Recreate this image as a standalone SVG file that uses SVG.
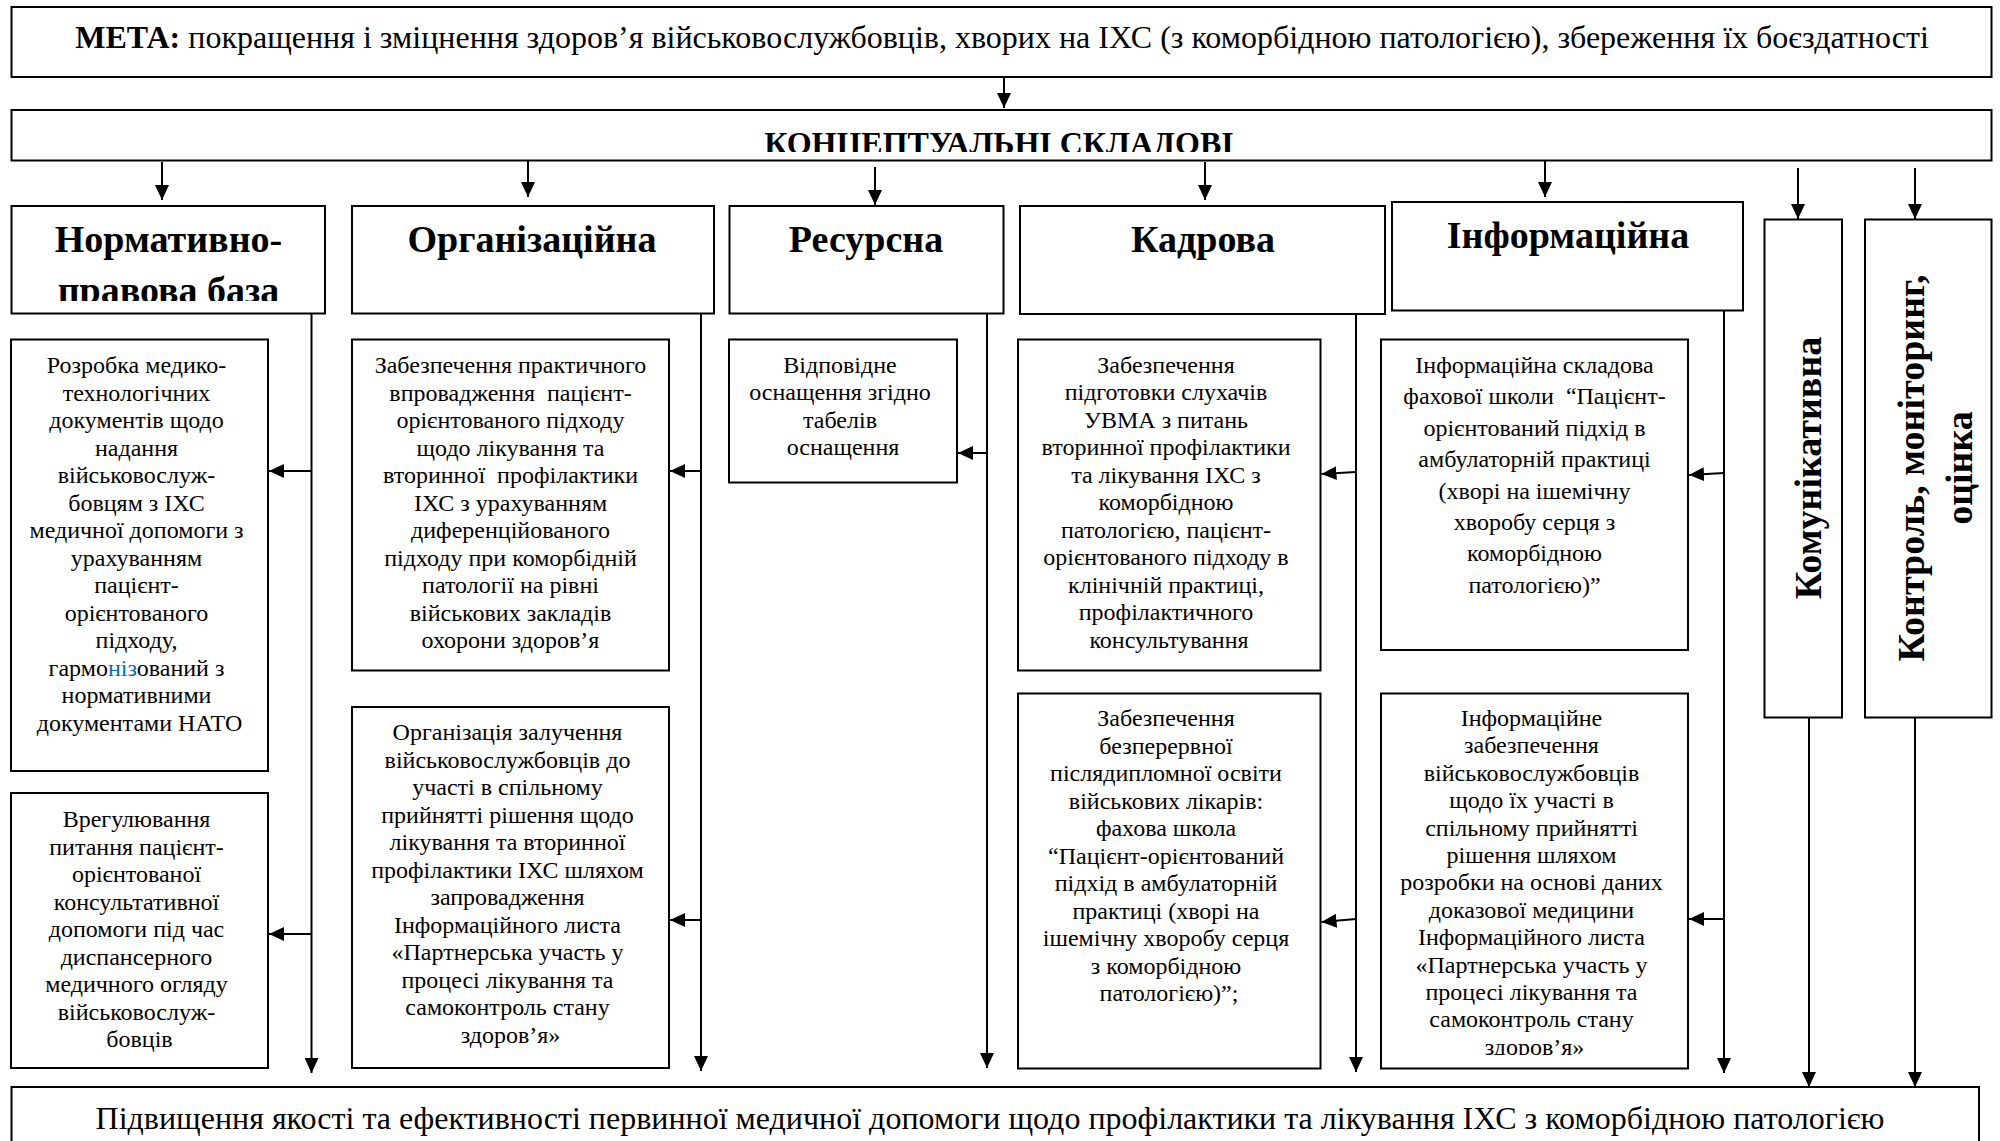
<svg xmlns="http://www.w3.org/2000/svg" width="2000" height="1141" viewBox="0 0 2000 1141">
<style>
  .box { fill: #fff; stroke: #000; stroke-width: 2; }
  .t { font-family: "Liberation Serif", "Times New Roman", serif; fill: #000; }
  .body { font-size: 24px; text-anchor: middle; }
  .head { font-size: 38px; font-weight: bold; text-anchor: middle; }
  .big { font-size: 32px; }
  .conn { stroke: #000; stroke-width: 2; fill: none; marker-end: url(#ah); }
  .blue { fill: #0070c0; }
</style>
<defs>
  <marker id="ah" markerUnits="userSpaceOnUse" markerWidth="16" markerHeight="14" refX="15" refY="7" orient="auto">
    <path d="M0,0 L15,7 L0,14 Z" fill="#000"/>
  </marker>
  <clipPath id="clipConcept"><rect x="0" y="100" width="2000" height="52"/></clipPath>
  <clipPath id="clipNorm"><rect x="0" y="200" width="400" height="101"/></clipPath>
  <clipPath id="clipI2"><rect x="1370" y="690" width="330" height="365"/></clipPath>
</defs>
<rect width="2000" height="1141" fill="#fff"/>

<g id="meta">
  <rect class="box" x="11.5" y="7" width="1980" height="70"/>
  <text class="t big" x="1002" y="47.5" text-anchor="middle"><tspan font-weight="bold">МЕТА:</tspan> покращення і зміцнення здоров’я військовослужбовців, хворих на ІХС (з коморбідною патологією), збереження їх боєздатності</text>
</g>

<g id="concept">
  <rect class="box" x="11.5" y="110" width="1980" height="50.5"/>
  <text class="t big" x="999" y="154" text-anchor="middle" font-weight="bold" clip-path="url(#clipConcept)">КОНЦЕПТУАЛЬНІ СКЛАДОВІ</text>
</g>

<g id="h-norm">
  <rect class="box" x="11.5" y="206" width="313.5" height="107.5"/>
  <text class="t head" x="168.5" y="252">Нормативно-</text>
  <text class="t head" x="168.5" y="303" clip-path="url(#clipNorm)">правова база</text>
</g>
<g id="h-org">
  <rect class="box" x="352" y="206" width="362" height="107.5"/>
  <text class="t head" x="532" y="252">Організаційна</text>
</g>
<g id="h-res">
  <rect class="box" x="729.5" y="206" width="274" height="107.5"/>
  <text class="t head" x="866" y="252">Ресурсна</text>
</g>
<g id="h-kadr">
  <rect class="box" x="1020" y="206" width="365" height="108"/>
  <text class="t head" x="1203" y="252">Кадрова</text>
</g>
<g id="h-info">
  <rect class="box" x="1392" y="202" width="351" height="108.5"/>
  <text class="t head" x="1568" y="248">Інформаційна</text>
</g>
<g id="h-comm">
  <rect class="box" x="1764.5" y="219.5" width="77.5" height="498"/>
  <text class="t head" transform="translate(1821,468) rotate(-90)" x="0" y="0">Комунікативна</text>
</g>
<g id="h-ctrl">
  <rect class="box" x="1865" y="219.5" width="126.5" height="498"/>
  <text class="t head" transform="translate(1924,468) rotate(-90)" x="0" y="0">Контроль, моніторинг,</text>
  <text class="t head" transform="translate(1972,468) rotate(-90)" x="0" y="0">оцінка</text>
</g>

<g id="n1">
  <rect class="box" x="11" y="339.5" width="257" height="431.5"/>
  <text class="t body" y="373">
    <tspan x="139.5">Розробка медико-</tspan>
    <tspan x="139.5" dy="27.5">технологічних</tspan>
    <tspan x="139.5" dy="27.5">документів щодо</tspan>
    <tspan x="139.5" dy="27.5">надання</tspan>
    <tspan x="139.5" dy="27.5">військовослуж-</tspan>
    <tspan x="139.5" dy="27.5">бовцям з ІХС</tspan>
    <tspan x="139.5" dy="27.5">медичної допомоги з</tspan>
    <tspan x="139.5" dy="27.5">урахуванням</tspan>
    <tspan x="139.5" dy="27.5">пацієнт-</tspan>
    <tspan x="139.5" dy="27.5">орієнтованого</tspan>
    <tspan x="139.5" dy="27.5">підходу,</tspan>
    <tspan x="139.5" dy="27.5">гармо<tspan class="blue">ніз</tspan>ований з</tspan>
    <tspan x="139.5" dy="27.5">нормативними</tspan>
    <tspan x="139.5" dy="27.5">документами НАТО</tspan>
  </text>
</g>
<g id="n2">
  <rect class="box" x="11" y="793" width="257" height="275"/>
  <text class="t body" y="827">
    <tspan x="139.5">Врегулювання</tspan>
    <tspan x="139.5" dy="27.5">питання пацієнт-</tspan>
    <tspan x="139.5" dy="27.5">орієнтованої</tspan>
    <tspan x="139.5" dy="27.5">консультативної</tspan>
    <tspan x="139.5" dy="27.5">допомоги під час</tspan>
    <tspan x="139.5" dy="27.5">диспансерного</tspan>
    <tspan x="139.5" dy="27.5">медичного огляду</tspan>
    <tspan x="139.5" dy="27.5">військовослуж-</tspan>
    <tspan x="139.5" dy="27.5">бовців</tspan>
  </text>
</g>

<g id="o1">
  <rect class="box" x="352" y="339.5" width="317" height="331"/>
  <text class="t body" y="373" xml:space="preserve"><tspan x="510.5">Забезпечення практичного</tspan><tspan x="510.5" dy="27.5">впровадження  пацієнт-</tspan><tspan x="510.5" dy="27.5">орієнтованого підходу</tspan><tspan x="510.5" dy="27.5">щодо лікування та</tspan><tspan x="510.5" dy="27.5">вторинної  профілактики</tspan><tspan x="510.5" dy="27.5">ІХС з урахуванням</tspan><tspan x="510.5" dy="27.5">диференційованого</tspan><tspan x="510.5" dy="27.5">підходу при коморбідній</tspan><tspan x="510.5" dy="27.5">патології на рівні</tspan><tspan x="510.5" dy="27.5">військових закладів</tspan><tspan x="510.5" dy="27.5">охорони здоров’я</tspan></text>
</g>
<g id="o2">
  <rect class="box" x="352" y="707" width="317" height="361"/>
  <text class="t body" y="740">
    <tspan x="510.5">Організація залучення</tspan>
    <tspan x="510.5" dy="27.5">військовослужбовців до</tspan>
    <tspan x="510.5" dy="27.5">участі в спільному</tspan>
    <tspan x="510.5" dy="27.5">прийнятті рішення щодо</tspan>
    <tspan x="510.5" dy="27.5">лікування та вторинної</tspan>
    <tspan x="510.5" dy="27.5">профілактики ІХС шляхом</tspan>
    <tspan x="510.5" dy="27.5">запровадження</tspan>
    <tspan x="510.5" dy="27.5">Інформаційного листа</tspan>
    <tspan x="510.5" dy="27.5">«Партнерська участь у</tspan>
    <tspan x="510.5" dy="27.5">процесі лікування та</tspan>
    <tspan x="510.5" dy="27.5">самоконтроль стану</tspan>
    <tspan x="510.5" dy="27.5">здоров’я»</tspan>
  </text>
</g>

<g id="r1">
  <rect class="box" x="729" y="339.5" width="228" height="143"/>
  <text class="t body" y="372.5">
    <tspan x="843">Відповідне</tspan>
    <tspan x="843" dy="27.5">оснащення згідно</tspan>
    <tspan x="843" dy="27.5">табелів</tspan>
    <tspan x="843" dy="27.5">оснащення</tspan>
  </text>
</g>

<g id="k1">
  <rect class="box" x="1018" y="339.5" width="302.5" height="331"/>
  <text class="t body" y="372.5">
    <tspan x="1169">Забезпечення</tspan>
    <tspan x="1169" dy="27.5">підготовки слухачів</tspan>
    <tspan x="1169" dy="27.5">УВМА з питань</tspan>
    <tspan x="1169" dy="27.5">вторинної профілактики</tspan>
    <tspan x="1169" dy="27.5">та лікування ІХС з</tspan>
    <tspan x="1169" dy="27.5">коморбідною</tspan>
    <tspan x="1169" dy="27.5">патологією, пацієнт-</tspan>
    <tspan x="1169" dy="27.5">орієнтованого підходу в</tspan>
    <tspan x="1169" dy="27.5">клінічній практиці,</tspan>
    <tspan x="1169" dy="27.5">профілактичного</tspan>
    <tspan x="1169" dy="27.5">консультування</tspan>
  </text>
</g>
<g id="k2">
  <rect class="box" x="1018" y="693.5" width="302.5" height="375"/>
  <text class="t body" y="726">
    <tspan x="1169">Забезпечення</tspan>
    <tspan x="1169" dy="27.5">безперервної</tspan>
    <tspan x="1169" dy="27.5">післядипломної освіти</tspan>
    <tspan x="1169" dy="27.5">військових лікарів:</tspan>
    <tspan x="1169" dy="27.5">фахова школа</tspan>
    <tspan x="1169" dy="27.5">“Пацієнт-орієнтований</tspan>
    <tspan x="1169" dy="27.5">підхід в амбулаторній</tspan>
    <tspan x="1169" dy="27.5">практиці (хворі на</tspan>
    <tspan x="1169" dy="27.5">ішемічну хворобу серця</tspan>
    <tspan x="1169" dy="27.5">з коморбідною</tspan>
    <tspan x="1169" dy="27.5">патологією)”;</tspan>
  </text>
</g>

<g id="i1">
  <rect class="box" x="1381" y="339.5" width="307" height="310.5"/>
  <text class="t body" y="373" xml:space="preserve"><tspan x="1534.5">Інформаційна складова</tspan><tspan x="1534.5" dy="31.4">фахової школи  “Пацієнт-</tspan><tspan x="1534.5" dy="31.4">орієнтований підхід в</tspan><tspan x="1534.5" dy="31.4">амбулаторній практиці</tspan><tspan x="1534.5" dy="31.4">(хворі на ішемічну</tspan><tspan x="1534.5" dy="31.4">хворобу серця з</tspan><tspan x="1534.5" dy="31.4">коморбідною</tspan><tspan x="1534.5" dy="31.4">патологією)”</tspan></text>
</g>
<g id="i2">
  <rect class="box" x="1381" y="693.5" width="307" height="375"/>
  <text class="t body" y="726" clip-path="url(#clipI2)">
    <tspan x="1534.5">Інформаційне</tspan>
    <tspan x="1534.5" dy="27.4">забезпечення</tspan>
    <tspan x="1534.5" dy="27.4">військовослужбовців</tspan>
    <tspan x="1534.5" dy="27.4">щодо їх участі в</tspan>
    <tspan x="1534.5" dy="27.4">спільному прийнятті</tspan>
    <tspan x="1534.5" dy="27.4">рішення шляхом</tspan>
    <tspan x="1534.5" dy="27.4">розробки на основі даних</tspan>
    <tspan x="1534.5" dy="27.4">доказової медицини</tspan>
    <tspan x="1534.5" dy="27.4">Інформаційного листа</tspan>
    <tspan x="1534.5" dy="27.4">«Партнерська участь у</tspan>
    <tspan x="1534.5" dy="27.4">процесі лікування та</tspan>
    <tspan x="1534.5" dy="27.4">самоконтроль стану</tspan>
    <tspan x="1534.5" dy="27.4">здоров’я»</tspan>
  </text>
</g>

<g id="result">
  <rect class="box" x="11.5" y="1087" width="1967.5" height="80"/>
  <text class="t big" x="990" y="1129" text-anchor="middle">Підвищення якості та ефективності первинної медичної допомоги щодо профілактики та лікування ІХС з коморбідною патологією</text>
</g>

<g id="connectors">
  <line class="conn" x1="1004" y1="77" x2="1004" y2="108"/>
  <line class="conn" x1="162" y1="162" x2="162" y2="200"/>
  <line class="conn" x1="528" y1="161" x2="528" y2="197"/>
  <line class="conn" x1="875" y1="167" x2="875" y2="205"/>
  <line class="conn" x1="1205" y1="162" x2="1205" y2="200"/>
  <line class="conn" x1="1545" y1="161" x2="1545" y2="197"/>
  <line class="conn" x1="1798" y1="168" x2="1798" y2="219"/>
  <line class="conn" x1="1915" y1="168" x2="1915" y2="219"/>

  <line class="conn" x1="311.5" y1="314" x2="311.5" y2="1073"/>
  <line class="conn" x1="701" y1="314" x2="701" y2="1071"/>
  <line class="conn" x1="987" y1="314" x2="987" y2="1068"/>
  <line class="conn" x1="1356" y1="315" x2="1356" y2="1072"/>
  <line class="conn" x1="1724" y1="311" x2="1724" y2="1073"/>
  <line class="conn" x1="1809" y1="718" x2="1809" y2="1087"/>
  <line class="conn" x1="1915" y1="718" x2="1915" y2="1087"/>

  <line class="conn" x1="311.5" y1="471" x2="269" y2="471"/>
  <line class="conn" x1="311.5" y1="934" x2="269" y2="934"/>
  <line class="conn" x1="701" y1="471" x2="670" y2="471"/>
  <line class="conn" x1="701" y1="920" x2="670" y2="920"/>
  <line class="conn" x1="987" y1="453" x2="958" y2="453"/>
  <line class="conn" x1="1356" y1="472" x2="1321.5" y2="474"/>
  <line class="conn" x1="1356" y1="919" x2="1321.5" y2="922"/>
  <line class="conn" x1="1724" y1="473" x2="1689" y2="475"/>
  <line class="conn" x1="1724" y1="919" x2="1689" y2="919"/>
</g>
</svg>
